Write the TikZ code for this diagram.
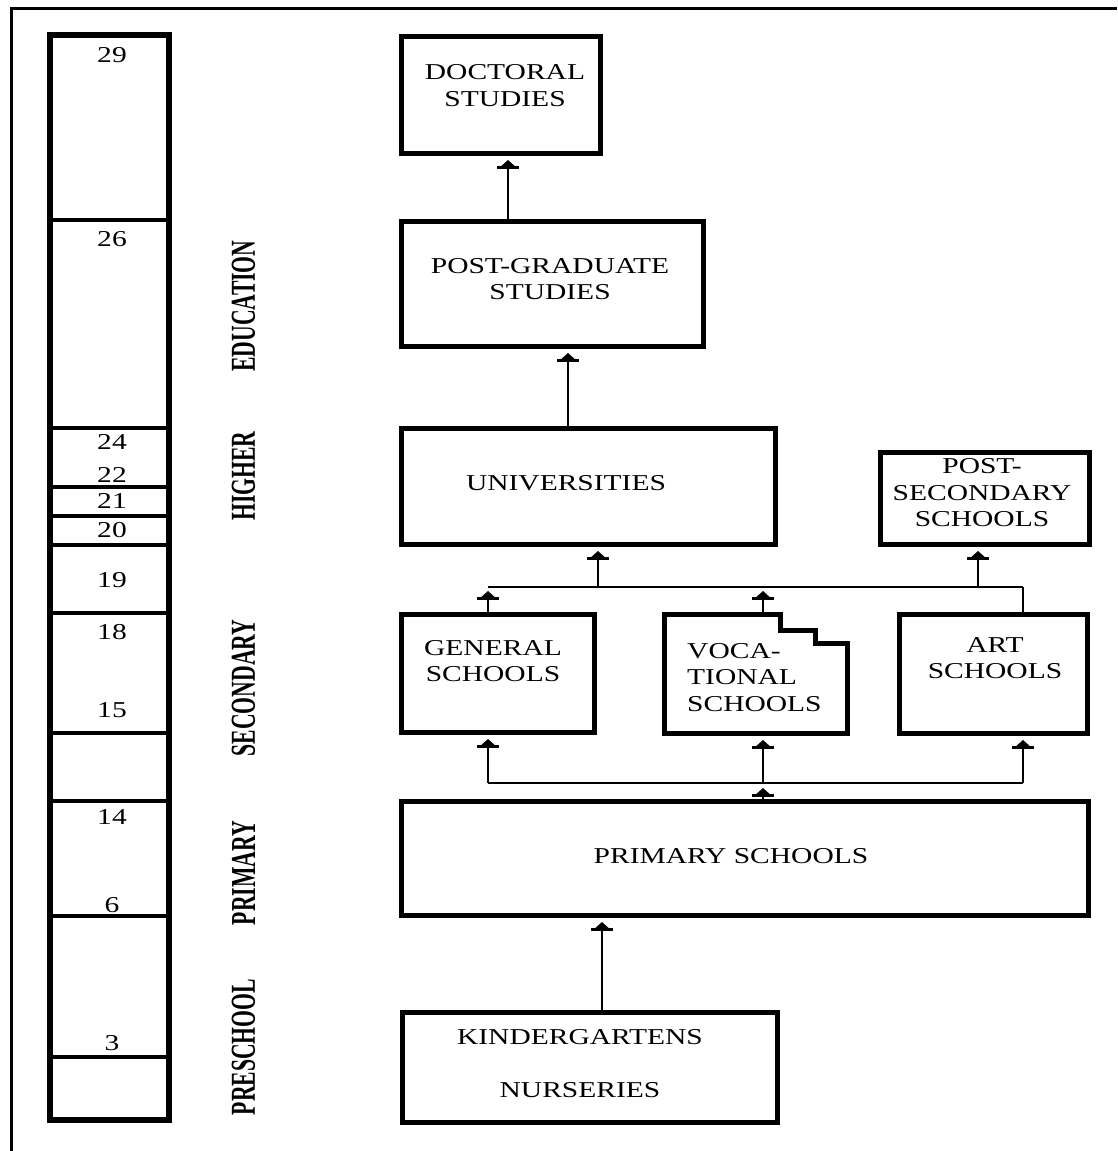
\documentclass[tikz,border=0pt]{standalone}
\usepackage{fontspec}
\usepackage{tikz}
\usetikzlibrary{arrows.meta}
\newfontfamily\boxfont{Liberation Serif}[FakeStretch=1.3]
\newfontfamily\agefont{Liberation Serif}[FakeStretch=1.3]
\newfontfamily\sidefont{Liberation Serif}[FakeStretch=0.62]
\tikzstyle{box}=[draw=black,line width=5pt,outer sep=0pt,inner sep=0pt,line join=miter]
\tikzstyle{txt}=[inner sep=0pt,align=center,font=\boxfont\fontsize{22.7}{26.5}\selectfont]
\tikzstyle{age}=[inner sep=0pt,font=\agefont\fontsize{22.7}{26}\selectfont]
\tikzstyle{side}=[inner sep=0pt,rotate=90,font=\sidefont\bfseries\fontsize{35}{40}\selectfont]
\tikzstyle{agebar}=[line width=6pt,line join=miter]
\tikzstyle{agediv}=[line width=3.5pt]
\tikzstyle{frame}=[line width=2.5pt]
\tikzstyle{conn}=[line width=2pt]
\tikzstyle{arr}=[conn,-{Bar[width=22pt,line width=2.5pt]Triangle[width=13pt,length=6pt]},shorten >=7pt]
\tikzstyle{arrj}=[arr,shorten >=4pt]

\begin{document}
\begin{tikzpicture}[x=1pt,y=-1pt]
\useasboundingbox (0,0) rectangle (1117,1151);
\draw[frame] (11.5,1151) -- (11.5,8.5) -- (1117,8.5);

% age scale
\foreach \y in {220,428,487,516,545,613,733,801,916,1057}
  \draw[agediv] (50,\y) -- (169,\y);
\draw[agebar] (50,35) rectangle (169,1120);
\foreach \n/\y in {29/55,26/239,24/442,22/475,21/501,20/530,19/580,18/632,15/710,14/817,6/905,3/1043}
  \node[age] (age\n) at (112,\y) {\n};

\node[side] (sEdu) at (243.5,306) {EDUCATION};
\node[side] (sHigh) at (243.5,476) {HIGHER};
\node[side] (sSec) at (243.5,688) {SECONDARY};
\node[side] (sPrim) at (243.5,873) {PRIMARY};
\node[side] (sPre) at (243.5,1047) {PRESCHOOL};

% schools
\node[box,minimum width=199pt,minimum height=117pt] (doct) at (500.5,94.5) {};
\node[box,minimum width=302pt,minimum height=125pt] (pgrad) at (552,283.5) {};
\node[box,minimum width=374pt,minimum height=116pt] (univ) at (588,486) {};
\node[box,minimum width=209pt,minimum height=92pt] (psec) at (984.5,498) {};
\node[box,minimum width=193pt,minimum height=118pt] (gen) at (497.5,673) {};
\node[box,draw=none,minimum width=183pt,minimum height=119pt] (voc) at (755.5,673.5) {};
\node[box,minimum width=188pt,minimum height=119pt] (art) at (993,673.5) {};
\node[box,minimum width=687pt,minimum height=114pt] (prim) at (744.5,858) {};
\node[box,minimum width=375pt,minimum height=110pt] (kind) at (589.5,1067) {};
\draw[box] (voc.north west) -- ++(116,0) -- ++(0,16) -- ++(35,0) -- ++(0,13) -- ++(32,0)
  -- (voc.south east) -- (voc.south west) -- cycle;

\node[txt] (doctT) at (505,85.5) {DOCTORAL\\STUDIES};
\node[txt] (pgradT) at (550,279) {POST-GRADUATE\\STUDIES};
\node[txt] (univT) at (566,483) {UNIVERSITIES};
\node[txt] (psecT) at (982,493) {POST-\\SECONDARY\\SCHOOLS};
\node[txt] (genT) at (493,661) {GENERAL\\SCHOOLS};
\node[txt,align=left,anchor=west] (vocT) at (687,677.5) {VOCA-\\TIONAL\\SCHOOLS};
\node[txt] (artT) at (995,658) {ART\\SCHOOLS};
\node[txt] (primT) at (731,856) {PRIMARY SCHOOLS};
\node[txt] (kindT) at (580,1063.5) {KINDERGARTENS\\[27pt]NURSERIES};

% connectors
\coordinate (xa) at (508,0);
\coordinate (xb) at (568,0);
\coordinate (xg) at (488,0);
\coordinate (xu) at (598,0);
\coordinate (xv) at (763,0);
\coordinate (xs) at (978,0);
\coordinate (xr) at (1023,0);
\coordinate (xk) at (602,0);
\coordinate (jtop) at (0,587);
\coordinate (jbot) at (0,783);

\draw[arr] (xa |- pgrad.north) -- (xa |- doct.south);
\draw[arr] (xb |- univ.north) -- (xb |- pgrad.south);
\draw[conn] (xg |- jtop) -- (xr |- jtop);
\draw[arrj] (xg |- gen.north) -- (xg |- jtop);
\draw[arrj] (xv |- voc.north) -- (xv |- jtop);
\draw[conn] (xr |- art.north) -- (xr |- jtop);
\draw[arr] (xu |- jtop) -- (xu |- univ.south);
\draw[arr] (xs |- jtop) -- (xs |- psec.south);
\draw[conn] (xg |- jbot) -- (xr |- jbot);
\draw[arrj,shorten >=5pt] (xv |- prim.north) -- (xv |- jbot);
\draw[arr] (xg |- jbot) -- (xg |- gen.south);
\draw[arr] (xv |- jbot) -- (xv |- voc.south);
\draw[arr] (xr |- jbot) -- (xr |- art.south);
\draw[arr] (xk |- kind.north) -- (xk |- prim.south);
\end{tikzpicture}
\end{document}
